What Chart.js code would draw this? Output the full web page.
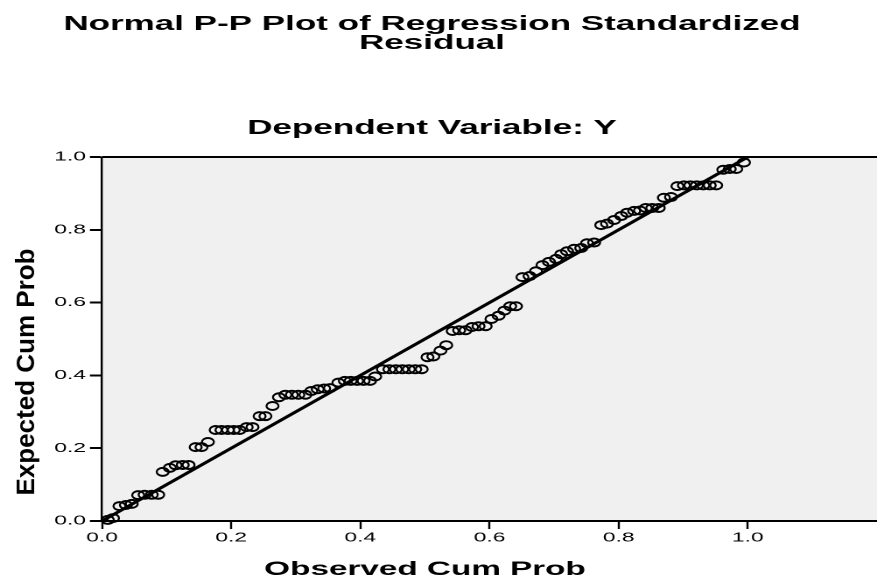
<!DOCTYPE html>
<html>
<head>
<meta charset="utf-8">
<script src="https://cdn.jsdelivr.net/npm/chart.js@4"></script>
<style>
html,body{margin:0;padding:0;background:#fff;overflow:hidden}
</style>
</head>
<body>
<canvas id="c" width="501" height="578" style="width:877px;height:578px;display:block"></canvas>
<script>
// ---- data ----
const titleLines = ['Normal P-P Plot of Regression Standardized', 'Residual'];
const subtitleText = 'Dependent Variable: Y';
const xAxisTitle = 'Observed Cum Prob';
const yAxisTitle = 'Expected Cum Prob';
const xTickValues = [0.0, 0.2, 0.4, 0.6, 0.8, 1.0];
const yTickValues = [0.0, 0.2, 0.4, 0.6, 0.8, 1.0];
const observedCumProb = [
  0.009,0.017,0.027,0.037,0.046,0.056,0.066,0.077,0.087,0.094,
  0.105,0.114,0.125,0.134,0.145,0.154,0.164,0.176,0.185,0.195,
  0.204,0.213,0.224,0.233,0.244,0.253,0.264,0.274,0.284,0.294,
  0.304,0.315,0.324,0.334,0.344,0.353,0.366,0.376,0.385,0.395,
  0.405,0.415,0.423,0.435,0.445,0.455,0.465,0.475,0.485,0.495,
  0.504,0.513,0.524,0.533,0.543,0.553,0.563,0.573,0.583,0.594,
  0.603,0.614,0.623,0.632,0.641,0.651,0.662,0.672,0.682,0.692,
  0.703,0.711,0.720,0.731,0.742,0.751,0.762,0.773,0.782,0.793,
  0.804,0.813,0.824,0.833,0.842,0.852,0.862,0.870,0.881,0.891,
  0.901,0.911,0.921,0.931,0.941,0.951,0.962,0.972,0.982,0.994
];
const expectedCumProb = [
  0.003,0.008,0.041,0.044,0.047,0.071,0.072,0.072,0.072,0.135,
  0.146,0.153,0.154,0.154,0.203,0.203,0.217,0.250,0.250,0.250,
  0.250,0.250,0.258,0.258,0.288,0.288,0.316,0.340,0.347,0.347,
  0.347,0.347,0.357,0.362,0.364,0.365,0.380,0.385,0.385,0.385,
  0.385,0.385,0.397,0.417,0.417,0.417,0.417,0.417,0.417,0.417,
  0.450,0.452,0.468,0.483,0.522,0.524,0.524,0.533,0.535,0.535,
  0.555,0.564,0.578,0.590,0.590,0.670,0.673,0.686,0.703,0.712,
  0.720,0.733,0.741,0.748,0.750,0.763,0.765,0.813,0.817,0.827,
  0.838,0.847,0.852,0.853,0.860,0.860,0.860,0.888,0.890,0.920,
  0.922,0.922,0.922,0.922,0.922,0.922,0.965,0.967,0.967,0.985
];
const refLineX = [0, 1];
const refLineY = [0, 1];

// ---- styling ----
const SX = 877 / 501;            // horizontal stretch of the whole picture
const FONT = '"Liberation Sans", Arial, Helvetica, sans-serif';

const ringSvg = '<svg xmlns="http://www.w3.org/2000/svg" width="18" height="22" viewBox="0 0 9 11">' +
  '<path fill-rule="evenodd" fill="#000" d="M0.5,5.5 a4,5 0 1,0 8,0 a4,5 0 1,0 -8,0 Z ' +
  'M1.65,5.5 a2.85,3 0 1,0 5.7,0 a2.85,3 0 1,0 -5.7,0 Z"/></svg>';
const ring = new Image(9, 11);

const bgPlugin = {
  id: 'plotBg',
  beforeDraw(chart) {
    const {ctx, chartArea: a} = chart;
    ctx.save();
    ctx.fillStyle = '#f0f0f0';
    ctx.fillRect(a.left, a.top, a.right - a.left, a.bottom - a.top);
    ctx.restore();
  },
  afterDraw(chart) {
    const {ctx, chartArea: a} = chart;
    ctx.save();
    ctx.strokeStyle = '#000';
    ctx.lineWidth = 2;
    ctx.beginPath();
    ctx.moveTo(a.left, a.top);
    ctx.lineTo(a.right, a.top);
    ctx.stroke();
    ctx.fillStyle = '#000';
    ctx.textAlign = 'center';
    ctx.textBaseline = 'alphabetic';
    ctx.font = 'bold 20px ' + FONT;
    ctx.fillText(titleLines[0], 432 / SX, 30);
    ctx.fillText(titleLines[1], 432 / SX, 49);
    ctx.fillText(subtitleText, 432 / SX, 134);
    ctx.font = 'bold 19px ' + FONT;
    ctx.fillText(xAxisTitle, 425 / SX, 575);
    ctx.translate(27 / SX, 372);
    ctx.rotate(-Math.PI / 2);
    ctx.scale(1, 1 / SX);
    ctx.font = 'bold 26px ' + FONT;
    ctx.textBaseline = 'middle';
    ctx.fillText(yAxisTitle, 0, 0);
    ctx.restore();
  }
};

function build() {
  new Chart(document.getElementById('c'), {
    data: {
      datasets: [
        {
          type: 'scatter',
          data: observedCumProb.map((x, i) => ({x: x, y: expectedCumProb[i]})),
          pointStyle: ring,
          pointRadius: 4,
          clip: false,
          order: 1
        },
        {
          type: 'line',
          data: refLineX.map((x, i) => ({x: x, y: refLineY[i]})),
          borderColor: '#000',
          borderWidth: 2.6,
          pointRadius: 0,
          fill: false,
          order: 2
        }
      ]
    },
    options: {
      responsive: false,
      devicePixelRatio: 2,
      animation: false,
      layout: {autoPadding: false, padding: {top: 157, left: 0, right: 0, bottom: 0}},
      plugins: {legend: {display: false}, tooltip: {enabled: false}, title: {display: false}},
      scales: {
        x: {
          type: 'linear', position: 'bottom', min: 0, max: 1.2,
          afterBuildTicks: s => { s.ticks = xTickValues.map(v => ({value: v})); },
          afterFit: s => { s.height = 578 - 521; },
          ticks: {
            callback: v => Number(v).toFixed(1),
            font: {family: FONT, size: 13}, color: '#000',
            padding: 1, maxRotation: 0, autoSkip: false
          },
          grid: {drawOnChartArea: false, drawTicks: true, tickLength: 8, tickWidth: 1.2, tickColor: '#000'},
          border: {display: true, color: '#000', width: 2}
        },
        y: {
          type: 'linear', position: 'left', min: 0, max: 1,
          afterBuildTicks: s => { s.ticks = yTickValues.map(v => ({value: v})); },
          afterFit: s => { s.width = 102 / SX; },
          ticks: {
            callback: v => Number(v).toFixed(1),
            font: {family: FONT, size: 13}, color: '#000',
            padding: 2.3, autoSkip: false
          },
          grid: {drawOnChartArea: false, drawTicks: true, tickLength: 6.9, tickWidth: 2, tickColor: '#000'},
          border: {display: true, color: '#000', width: 1.2}
        }
      }
    },
    plugins: [bgPlugin]
  });
}
ring.onload = build;
ring.src = 'data:image/svg+xml;charset=utf-8,' + encodeURIComponent(ringSvg);
</script>
</body>
</html>
